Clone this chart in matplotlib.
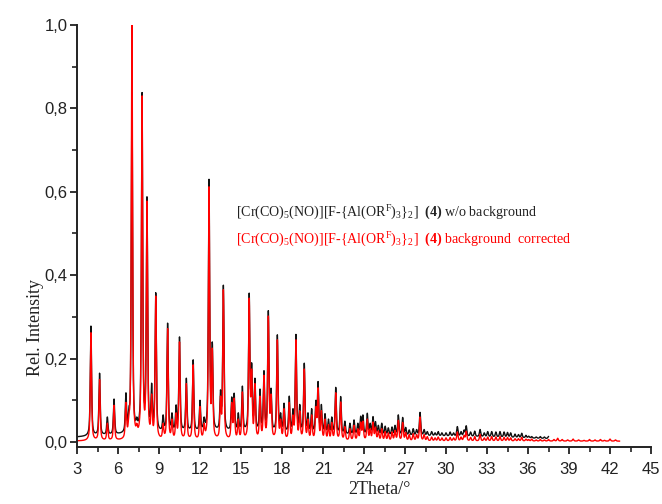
import numpy as np
import matplotlib
matplotlib.use("Agg")
import matplotlib.pyplot as plt
from matplotlib.ticker import MultipleLocator, FuncFormatter

plt.rcParams["mathtext.fontset"] = "custom"
plt.rcParams["mathtext.rm"] = "Liberation Serif"
plt.rcParams["mathtext.it"] = "Liberation Serif:italic"
plt.rcParams["mathtext.bf"] = "Liberation Serif:bold"

# Reflection positions (2Theta, deg) with apex intensities of both patterns
peak_pos = [4.02, 4.65, 5.22, 5.71, 6.58, 6.80, 7.02, 7.38, 7.76, 8.12,
            8.46, 8.76, 9.30, 9.63, 9.95, 10.25, 10.50, 11.00, 11.50, 12.00,
            12.30, 12.66, 12.90, 13.50, 13.71, 14.32, 14.50, 14.80, 15.10, 15.60,
            15.78, 16.02, 16.39, 16.68, 17.00, 17.20, 17.66, 17.90, 18.15, 18.53,
            18.80, 19.02, 19.30, 19.63, 19.90, 20.17, 20.48, 20.64, 20.88, 21.15,
            21.40, 21.64, 21.93, 22.29, 22.60, 22.97, 23.27, 23.55, 23.76, 23.92,
            24.24, 24.45, 24.66, 24.84, 25.05, 25.30, 25.55, 25.78, 26.05, 26.27,
            26.51, 26.83, 27.05, 27.31, 27.60, 27.85, 28.10, 28.40, 28.63, 28.95,
            29.20, 29.43, 29.70, 30.00, 30.30, 30.55, 30.83, 31.10, 31.32, 31.48,
            31.80, 32.10, 32.49, 32.80, 33.05, 33.34, 33.65, 33.95, 34.25, 34.50,
            34.73, 35.05, 35.30, 35.54, 35.85, 36.05, 36.27, 36.60, 36.90, 37.20,
            37.50, 37.90, 38.17, 38.50, 38.90, 39.30, 39.70, 40.10, 40.50, 40.90,
            41.30, 41.60, 42.00, 42.40]

black_apex = [0.278, 0.165, 0.060, 0.103, 0.118, 0.085, 0.873, 0.060, 0.838, 0.588,
              0.141, 0.358, 0.065, 0.285, 0.070, 0.089, 0.252, 0.153, 0.197, 0.100,
              0.060, 0.630, 0.240, 0.125, 0.376, 0.108, 0.117, 0.070, 0.134, 0.357,
              0.190, 0.153, 0.127, 0.171, 0.315, 0.129, 0.257, 0.070, 0.093, 0.110,
              0.080, 0.258, 0.090, 0.189, 0.070, 0.080, 0.100, 0.145, 0.090, 0.068,
              0.055, 0.060, 0.131, 0.109, 0.050, 0.045, 0.053, 0.045, 0.062, 0.065,
              0.069, 0.045, 0.061, 0.049, 0.040, 0.045, 0.038, 0.034, 0.036, 0.040,
              0.065, 0.059, 0.035, 0.029, 0.032, 0.030, 0.071, 0.030, 0.025, 0.025,
              0.022, 0.025, 0.022, 0.022, 0.024, 0.022, 0.037, 0.025, 0.029, 0.039,
              0.024, 0.026, 0.030, 0.022, 0.025, 0.025, 0.024, 0.025, 0.024, 0.023,
              0.022, 0.019, 0.018, 0.021, 0.016, 0.014, 0.013, 0.012, 0.013, 0.012,
              0.013, 0.013, 0.015, 0.013, 0.012, 0.014, 0.012, 0.011, 0.013, 0.012,
              0.013, 0.011, 0.014, 0.012]

red_apex = [0.262, 0.150, 0.045, 0.088, 0.095, 0.070, 1.000, 0.045, 0.830, 0.578,
            0.115, 0.350, 0.045, 0.272, 0.055, 0.070, 0.240, 0.140, 0.185, 0.085,
            0.045, 0.612, 0.225, 0.110, 0.365, 0.095, 0.105, 0.055, 0.120, 0.345,
            0.175, 0.140, 0.110, 0.160, 0.302, 0.115, 0.245, 0.055, 0.080, 0.095,
            0.065, 0.245, 0.075, 0.175, 0.055, 0.065, 0.085, 0.130, 0.075, 0.055,
            0.042, 0.047, 0.118, 0.096, 0.037, 0.032, 0.040, 0.032, 0.048, 0.050,
            0.055, 0.032, 0.048, 0.036, 0.027, 0.032, 0.025, 0.022, 0.024, 0.028,
            0.052, 0.047, 0.023, 0.018, 0.020, 0.018, 0.060, 0.018, 0.013, 0.012,
            0.010, 0.012, 0.010, 0.010, 0.011, 0.010, 0.024, 0.012, 0.016, 0.026,
            0.011, 0.013, 0.018, 0.010, 0.012, 0.013, 0.012, 0.013, 0.011, 0.011,
            0.010, 0.008, 0.008, 0.011, 0.007, 0.006, 0.007, 0.005, 0.006, 0.005,
            0.006, 0.006, 0.009, 0.006, 0.005, 0.007, 0.005, 0.004, 0.006, 0.005,
            0.006, 0.004, 0.007, 0.005]

# Broad background humps present only in the uncorrected pattern
bg_centre = [12.0, 30.0]
bg_height = [0.022, 0.012]
bg_width = [8.0, 8.0]
red_floor = 0.002

black_range = (3.0, 37.5)
red_range = (3.0, 42.7)

FWHM = 0.11
ETA = 0.6

x_ticks = list(range(3, 46, 3))
y_ticks = [0.0, 0.2, 0.4, 0.6, 0.8, 1.0]


def profile(x, centres, amps):
    x = np.asarray(x, float)[:, None]
    d = x - np.asarray(centres, float)[None, :]
    hw = FWHM / 2
    lor = hw ** 2 / (d ** 2 + hw ** 2)
    gau = np.exp(-np.log(2) * (d / hw) ** 2)
    return ((ETA * lor + (1 - ETA) * gau) * np.asarray(amps)[None, :]).sum(axis=1)


def black_bg(x):
    x = np.asarray(x, float)
    out = np.zeros_like(x)
    for c, h, w in zip(bg_centre, bg_height, bg_width):
        out += h * np.exp(-((x - c) ** 2) / (2 * w ** 2))
    return out


def red_bg(x):
    return np.full(np.shape(x), red_floor, dtype=float)


def solve_amps(targets, base):
    targets = np.asarray(targets, float)
    amps = np.clip(targets - base(peak_pos), 0, None)
    for _ in range(60):
        model = profile(peak_pos, peak_pos, amps) + base(peak_pos)
        amps = np.clip(amps + 0.7 * (targets - model), 0, None)
    return amps


amp_black = solve_amps(black_apex, black_bg)
amp_red = solve_amps(red_apex, red_bg)

xb = np.arange(black_range[0], black_range[1], 0.005)
xr = np.arange(red_range[0], red_range[1], 0.005)
yb = profile(xb, peak_pos, amp_black) + black_bg(xb)
yr = profile(xr, peak_pos, amp_red) + red_bg(xr)

fig = plt.figure(figsize=(6.62, 5.04), dpi=100)
ax = fig.add_axes([77 / 662, 57 / 504, 574 / 662, 422 / 504])

ax.plot(xb, yb, color="#111111", lw=1.0)
ax.plot(xr, yr, color="#ff0000", lw=1.0)

ax.set_xlim(3, 45)
ax.set_ylim(-0.012, 1.0)

for s in ("top", "right"):
    ax.spines[s].set_visible(False)
for s in ("left", "bottom"):
    ax.spines[s].set_linewidth(1.4)
    ax.spines[s].set_color("#222222")

ax.set_xticks(x_ticks)
ax.xaxis.set_minor_locator(MultipleLocator(1.5))
ax.set_yticks(y_ticks)
ax.yaxis.set_minor_locator(MultipleLocator(0.1))
ax.yaxis.set_major_formatter(FuncFormatter(lambda v, p: f"{v:.1f}".replace(".", ",")))
ax.xaxis.set_major_formatter(FuncFormatter(lambda v, p: f"{v:.0f}"))

ax.tick_params(which="major", direction="out", length=5, width=1.3, color="#222222",
               labelsize=12, labelcolor="#222222")
ax.tick_params(which="minor", direction="out", length=3.5, width=1.2, color="#222222")
ax.tick_params(axis="x", which="major", pad=6)
ax.tick_params(axis="y", which="major", pad=2)
for lab in ax.get_xticklabels() + ax.get_yticklabels():
    lab.set_fontfamily("Liberation Sans")

serif = "Liberation Serif"
fig.text(379 / 662, 1 - 490 / 504, "2Theta/°", ha="center", va="center",
         fontsize=13, family=serif, color="#222222")
fig.text(35 / 662, 1 - 327 / 504, "Rel. Intensity", ha="center", va="center",
         rotation=90, fontsize=13, family=serif, color="#222222")

formula = r"[Cr(CO)$_5$(NO)][F-{Al(OR$^\mathrm{F}$)$_3$}$_2$]  $\mathbf{(4)}$"
fig.text(236 / 662, 1 - 213 / 504, formula + " w/o background", ha="left", va="center",
         fontsize=10.1, family=serif, color="#222222")
fig.text(236 / 662, 1 - 240 / 504, formula + " background  corrected", ha="left",
         va="center", fontsize=10.1, family=serif, color="#ff0000")

fig.savefig("out.png", dpi=100)
